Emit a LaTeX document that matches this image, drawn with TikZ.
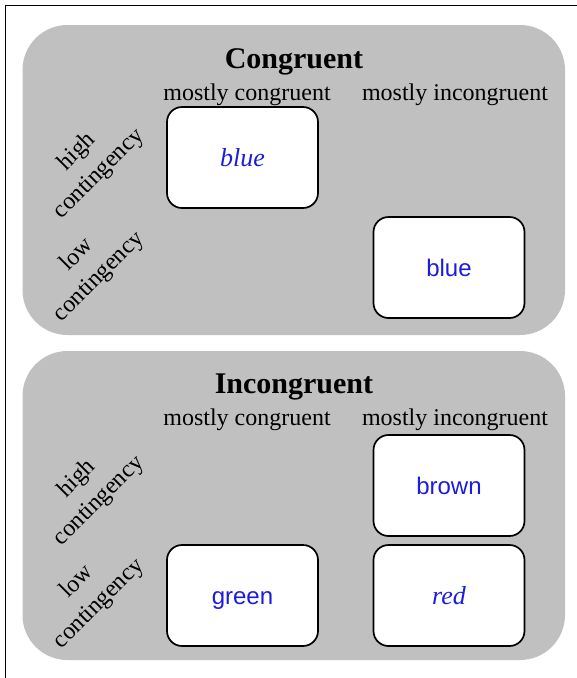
\documentclass[tikz,border=0pt]{standalone}
\usepackage{fontspec}
\setmainfont{Liberation Serif}
\setsansfont{Liberation Sans}
\definecolor{panelgray}{RGB}{192,192,192}
\definecolor{wordblue}{RGB}{28,28,222}
\begin{document}
\begin{tikzpicture}[x=1pt,y=-1pt,
  panel/.style={fill=panelgray, rounded corners=45pt, inner sep=0pt},
  cell/.style={draw=black, line width=1.7pt, fill=white, rounded corners=15pt,
    minimum width=151pt, minimum height=101pt, inner sep=0pt,
    text height=17pt, text depth=0pt, text=wordblue},
  sanw/.style={font=\fontsize{24}{28}\sffamily},
  itw/.style={font=\fontsize{26}{30}\selectfont\itshape},
  title/.style={font=\fontsize{30}{34}\selectfont\bfseries, anchor=base},
  colhead/.style={font=\fontsize{24}{28}\selectfont, anchor=base},
  rowhead/.style={font=\fontsize{24}{31}\selectfont, align=center, rotate=45}]
\useasboundingbox (0,0) rectangle (577,678);
\clip (0,0) rectangle (577,678);
\draw[line width=1pt] (5,700) -- (5,5) -- (600,5);
% panels
\node[panel, minimum width=542.5pt, minimum height=310pt] (p1) at (293.75,180) {};
\node[panel, minimum width=542.5pt, minimum height=309pt] (p2) at (293.75,505.5) {};
% panel 1
\node[title] (t1) at (294,68) {Congruent};
\node[colhead] (c1a) at (247,100) {mostly congruent};
\node[colhead] (c1b) at (455,100) {mostly incongruent};
\node[rowhead] (r1a) at (88,163) {high\\contingency};
\node[rowhead] (r1b) at (88,266) {low\\contingency};
\node[cell, itw] (b1) at (242.5,157.5) {blue};
\node[cell, sanw] (b2) at (449,267.5) {blue};
% panel 2
\node[title] (t2) at (294,393) {Incongruent};
\node[colhead] (c2a) at (247,425) {mostly congruent};
\node[colhead] (c2b) at (455,425) {mostly incongruent};
\node[rowhead] (r2a) at (88,490) {high\\contingency};
\node[rowhead] (r2b) at (88,593) {low\\contingency};
\node[cell, sanw] (b3) at (449,485.5) {brown};
\node[cell, sanw] (b4) at (242.5,595.5) {green};
\node[cell, itw] (b5) at (449,595.5) {red};
\end{tikzpicture}
\end{document}
